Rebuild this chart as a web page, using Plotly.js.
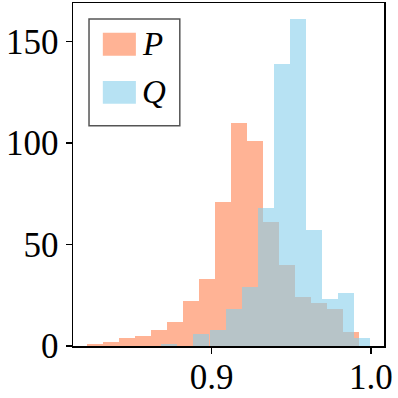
<!DOCTYPE html>
<html>
<head>
<meta charset="utf-8">
<script src="https://cdn.plot.ly/plotly-3.0.1.min.js"></script>
<style>
  html, body { margin: 0; padding: 0; background: #fff; }
  #chart { width: 398px; height: 398px; }
</style>
</head>
<body>
<div id="chart"></div>
<script>
// histogram bins (bin centres, counts)
const binWidth = 0.01004;

const pCenters = [0.8270, 0.8370, 0.8471, 0.8571, 0.8672, 0.8772, 0.8873, 0.8973, 0.9073,
                  0.9174, 0.9274, 0.9375, 0.9475, 0.9575, 0.9676, 0.9776, 0.9877];
const pCounts = [1, 2, 4, 5, 8, 12, 22, 33, 71, 110, 101, 61, 40, 24, 21, 18, 7];

const qCenters = [0.8736, 0.8837, 0.8937, 0.9038, 0.9138, 0.9239, 0.9339, 0.9439, 0.9540,
                  0.9640, 0.9741, 0.9841, 0.9941];
const qCounts = [1, 0, 6, 8, 18, 29, 68, 139, 161, 57, 23, 26, 4];

const seriesNames = ["P", "Q"];
const seriesColors = ["rgba(255,160,122,0.8)", "rgba(135,206,235,0.6)"];

const xTicks = [0.9, 1.0];
const yTicks = [0, 50, 100, 150];

const serif = "Liberation Serif";

const traces = [
  {
    type: "bar",
    x: pCenters,
    y: pCounts,
    width: pCenters.map(() => binWidth),
    marker: { color: seriesColors[0], line: { width: 0 } },
    name: seriesNames[0],
    showlegend: false,
  },
  {
    type: "bar",
    x: qCenters,
    y: qCounts,
    width: qCenters.map(() => binWidth),
    marker: { color: seriesColors[1], line: { width: 0 } },
    name: seriesNames[1],
    showlegend: false,
  },
];

// legend drawn by hand so the patches look like matplotlib's
const legendShapes = [
  { type: "rect", xref: "paper", yref: "paper", x0: 0.0515, x1: 0.3434, y0: 0.6419, y1: 0.9534,
    line: { color: "#555555", width: 1.5 }, fillcolor: "white", layer: "above" },
  { type: "rect", xref: "paper", yref: "paper", x0: 0.0959, x1: 0.2022, y0: 0.8465, y1: 0.9135,
    line: { width: 0 }, fillcolor: seriesColors[0], layer: "above" },
  { type: "rect", xref: "paper", yref: "paper", x0: 0.0959, x1: 0.2022, y0: 0.7060, y1: 0.7729,
    line: { width: 0 }, fillcolor: seriesColors[1], layer: "above" },
];

const legendLabels = [
  { y: 0.8802, text: "<i>" + seriesNames[0] + "</i>" },
  { y: 0.7394, text: "<i>" + seriesNames[1] + "</i>" },
].map(a => ({
  xref: "paper", yref: "paper", x: 0.2147, y: a.y, xanchor: "left", yanchor: "middle",
  text: a.text, showarrow: false, font: { family: serif, size: 33, color: "#000" },
}));

const layout = {
  width: 398,
  height: 398,
  margin: { l: 73, r: 14, t: 3, b: 52 },
  paper_bgcolor: "#fff",
  plot_bgcolor: "#fff",
  barmode: "overlay",
  bargap: 0,
  font: { family: serif, size: 35, color: "#000" },
  xaxis: {
    range: [0.8131, 1.0082],
    tickvals: xTicks,
    ticktext: xTicks.map(v => v.toFixed(1)),
    ticks: "outside",
    ticklen: 6,
    tickwidth: 1.5,
    tickcolor: "#000",
    ticklabelstandoff: -7,
    showline: true,
    linecolor: "#000",
    linewidth: 1.5,
    mirror: true,
    showgrid: false,
    zeroline: false,
  },
  yaxis: {
    range: [0, 169.05],
    tickvals: yTicks,
    ticks: "outside",
    ticklen: 6,
    tickwidth: 1.5,
    tickcolor: "#000",
    showline: true,
    linecolor: "#000",
    linewidth: 1.5,
    mirror: true,
    showgrid: false,
    zeroline: false,
  },
  shapes: legendShapes,
  annotations: legendLabels,
};

Plotly.newPlot("chart", traces, layout, { displayModeBar: false, staticPlot: true });
</script>
</body>
</html>
